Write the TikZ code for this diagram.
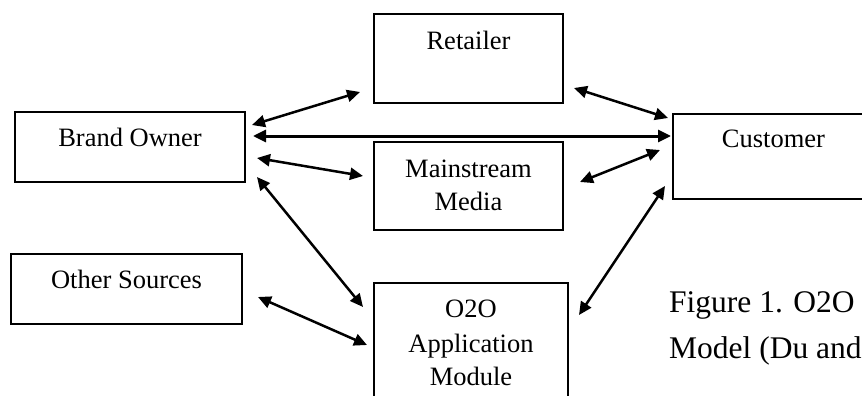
\documentclass[tikz,border=0pt]{standalone}
\usepackage{fontspec}
\setmainfont{Liberation Serif}
\usetikzlibrary{arrows.meta}
\begin{document}
\begin{tikzpicture}[x=1pt,y=-1pt,
  box/.style={draw=black,line width=1.1pt,rectangle,inner sep=0pt},
  lbl/.style={inner sep=0pt,anchor=base,font=\fontsize{26.5}{30}\selectfont},
  captext/.style={inner sep=0pt,anchor=base west,font=\fontsize{31.5}{36}\selectfont},
  link/.style={line width=2.5pt,{Triangle[length=13pt,width=12pt]}-{Triangle[length=13pt,width=12pt]}},
  biglink/.style={line width=3pt,{Triangle[length=13pt,width=12pt]}-{Triangle[length=13pt,width=12pt]}}]
\useasboundingbox (0,0) rectangle (862,396);
\clip (0,0) rectangle (862,396);
\fill[white] (0,0) rectangle (862,396);
% boxes
\node[box,minimum width=189pt,minimum height=89pt] (ret) at (468.5,58.5) {};
\node[box,minimum width=230pt,minimum height=70pt] (bo) at (130,147) {};
\node[box,minimum width=189pt,minimum height=88pt] (mm) at (468.5,186) {};
\node[box,minimum width=201pt,minimum height=85pt] (cu) at (773.5,156.5) {};
\node[box,minimum width=231pt,minimum height=70pt] (os) at (126.5,289) {};
\node[box,minimum width=194pt,minimum height=127pt] (o2o) at (471,346.5) {};
% labels
\node[lbl] (retT) at (468.5,49) {Retailer};
\node[lbl] (boT) at (130,146) {Brand Owner};
\node[lbl] (cuT) at (773.5,147) {Customer};
\node[lbl] (mmT1) at (468.5,177) {Mainstream};
\node[lbl] (mmT2) at (468.5,210) {Media};
\node[lbl] (osT) at (126.5,288) {Other Sources};
\node[lbl] (o2oT1) at (471,317) {O2O};
\node[lbl] (o2oT2) at (471,352) {Application};
\node[lbl] (o2oT3) at (471,385) {Module};
\node[captext] (cap1) at (669,312) {Figure 1. O2O};
\node[captext] (cap2) at (669,358) {Model (Du and};
% arrow end points
\coordinate (a1) at (252,125); \coordinate (b1) at (360,92);
\coordinate (a2) at (253,136); \coordinate (b2) at (671,136);
\coordinate (a3) at (257,158); \coordinate (b3) at (363,176);
\coordinate (a4) at (257,177); \coordinate (b4) at (363,307);
\coordinate (a5) at (258,297); \coordinate (b5) at (367,345);
\coordinate (a6) at (574,88);  \coordinate (b6) at (668,118);
\coordinate (a7) at (580,182); \coordinate (b7) at (660,150);
\coordinate (a8) at (579,315); \coordinate (b8) at (665,186);
% connectors
\draw[link] (a1) -- (b1);
\draw[biglink] (a2) -- (b2);
\draw[link] (a3) -- (b3);
\draw[link] (a4) -- (b4);
\draw[link] (a5) -- (b5);
\draw[link] (a6) -- (b6);
\draw[link] (a7) -- (b7);
\draw[link] (a8) -- (b8);
\end{tikzpicture}
\end{document}
